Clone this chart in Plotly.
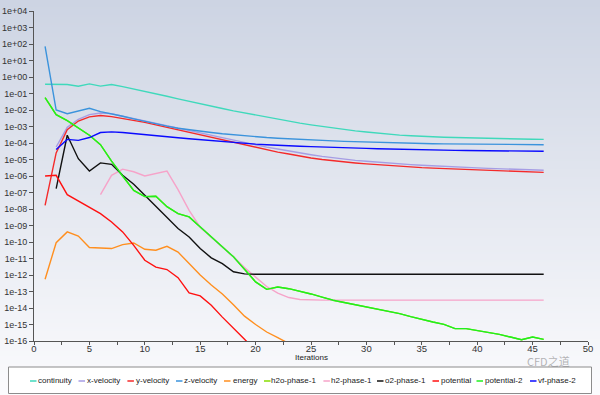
import base64
import struct
import zlib

import plotly.graph_objects as go

# ---------------- data ----------------
iters_1 = list(range(1, 47))
iters_2 = list(range(2, 47))
iters_6 = list(range(6, 47))

continuity = [3.6e-1, 3.6e-1, 3.5e-1, 2.75e-1, 3.8e-1, 2.8e-1, 3.5e-1, 2.6e-1, 1.9e-1, 1.35e-1,
              9.5e-2, 6.8e-2, 4.7e-2, 3.3e-2, 2.3e-2, 1.7e-2, 1.23e-2, 8.9e-3, 6.6e-3, 4.9e-3,
              3.6e-3, 2.75e-3, 2.1e-3, 1.6e-3, 1.26e-3, 1.0e-3, 7.9e-4, 6.5e-4, 5.4e-4, 4.6e-4,
              3.9e-4, 3.4e-4, 3.0e-4, 2.75e-4, 2.5e-4, 2.35e-4, 2.24e-4, 2.14e-4, 2.04e-4, 1.95e-4,
              1.86e-4, 1.82e-4, 1.78e-4, 1.74e-4, 1.70e-4, 1.66e-4]

x_velocity = [5.75e-5, 8.9e-4, 2.75e-3, 5.25e-3, 6.6e-3, 6.0e-3, 4.2e-3, 3.0e-3, 2.2e-3,
              1.58e-3, 1.12e-3, 7.9e-4, 5.6e-4, 4.0e-4, 2.8e-4, 2.0e-4, 1.45e-4, 1.05e-4, 7.6e-5,
              5.6e-5, 4.3e-5, 3.2e-5, 2.5e-5, 1.95e-5, 1.55e-5, 1.26e-5, 1.05e-5, 8.9e-6, 7.8e-6,
              6.8e-6, 6.0e-6, 5.4e-6, 4.9e-6, 4.5e-6, 4.1e-6, 3.8e-6, 3.55e-6, 3.3e-6, 3.1e-6,
              2.9e-6, 2.75e-6, 2.6e-6, 2.45e-6, 2.35e-6, 2.24e-6]

y_velocity = [1.66e-8, 2.5e-5, 6.3e-4, 2.14e-3, 3.8e-3, 4.6e-3, 4.0e-3, 3.16e-3, 2.4e-3, 1.78e-3,
              1.26e-3, 8.9e-4, 6.3e-4, 4.4e-4, 3.0e-4, 2.1e-4, 1.48e-4, 1.05e-4, 7.6e-5, 5.4e-5,
              3.9e-5, 2.8e-5, 2.14e-5, 1.58e-5, 1.23e-5, 1.0e-5, 8.3e-6, 7.1e-6, 6.2e-6, 5.4e-6,
              4.8e-6, 4.3e-6, 3.9e-6, 3.55e-6, 3.2e-6, 3.0e-6, 2.8e-6, 2.6e-6, 2.45e-6, 2.3e-6,
              2.14e-6, 2.04e-6, 1.9e-6, 1.82e-6, 1.74e-6, 1.66e-6]

z_velocity = [7.1e1, 1.0e-2, 6.0e-3, 8.7e-3, 1.26e-2, 7.9e-3, 6.0e-3, 4.2e-3, 2.9e-3, 2.0e-3,
              1.45e-3, 1.05e-3, 7.9e-4, 6.3e-4, 5.1e-4, 4.3e-4, 3.6e-4, 3.1e-4, 2.7e-4, 2.4e-4,
              2.14e-4, 1.95e-4, 1.78e-4, 1.66e-4, 1.55e-4, 1.45e-4, 1.35e-4, 1.26e-4, 1.2e-4, 1.12e-4,
              1.07e-4, 1.02e-4, 1.0e-4, 9.5e-5, 9.3e-5, 9.1e-5, 8.9e-5, 8.7e-5, 8.5e-5, 8.5e-5,
              8.3e-5, 8.3e-5, 8.1e-5, 8.1e-5, 7.9e-5, 7.9e-5]

iters_energy = list(range(1, 24))
energy = [5.5e-13, 9.1e-11, 4.1e-10, 2.3e-10, 4.6e-11, 4.2e-11, 4.0e-11, 6.9e-11, 8.7e-11, 3.6e-11,
          3.2e-11, 5.5e-11, 2.45e-11, 4.9e-12, 1.0e-12, 2.5e-13, 7.1e-14, 1.58e-14, 3.2e-15, 1.0e-15,
          3.5e-16, 1.58e-16, 7.1e-17]

potential_2 = [5.6e-2, 5.25e-3, 2.24e-3, 8.3e-4, 2.95e-4, 7.9e-5, 7.9e-6, 1.0e-6, 1.35e-7, 5.6e-8,
               5.9e-8, 1.38e-8, 5.25e-9, 3.3e-9, 8.1e-10, 2.0e-10, 5.25e-11, 1.26e-11, 2.24e-12, 3.8e-13,
               1.35e-13, 1.86e-13, 1.48e-13, 1.07e-13, 7.1e-14, 4.6e-14, 2.95e-14, 2.14e-14, 1.58e-14,
               1.15e-14, 8.5e-15, 6.3e-15, 4.6e-15, 3.0e-15, 2.0e-15, 1.41e-15, 1.02e-15, 5.6e-16,
               5.6e-16, 4.3e-16, 3.3e-16, 2.5e-16, 1.74e-16, 1.2e-16, 1.74e-16, 1.26e-16]

# h2o-phase-1 is not distinguishable in the reference: it lies under potential-2
h2o_phase_1 = [5.6e-2, 5.25e-3, 2.24e-3, 8.3e-4, 2.95e-4, 7.9e-5, 7.9e-6, 1.0e-6, 1.35e-7, 5.6e-8,
               5.9e-8, 1.38e-8, 5.25e-9, 3.3e-9, 8.1e-10, 2.0e-10, 5.25e-11, 1.26e-11, 2.24e-12, 3.8e-13,
               1.35e-13, 1.86e-13, 1.48e-13, 1.07e-13, 7.1e-14, 4.6e-14, 2.95e-14, 2.14e-14, 1.58e-14,
               1.15e-14, 8.5e-15, 6.3e-15, 4.6e-15, 3.0e-15, 2.0e-15, 1.41e-15, 1.02e-15, 5.6e-16,
               5.6e-16, 4.3e-16, 3.3e-16, 2.5e-16, 1.74e-16, 1.2e-16, 1.74e-16, 1.26e-16]

h2_phase_1 = [7.4e-8, 1.1e-6, 2.6e-6, 1.8e-6, 1.0e-6, 1.45e-6, 2.0e-6, 1.51e-7, 8.3e-9, 7.9e-10,
              2.0e-10, 5.0e-11, 1.26e-11, 2.8e-12, 7.1e-13, 2.0e-13, 7.9e-14, 4.3e-14, 3.3e-14, 3.0e-14,
              3.0e-14, 3.0e-14, 3.0e-14, 3.0e-14, 3.0e-14, 3.0e-14, 3.0e-14, 3.0e-14, 3.0e-14, 3.0e-14,
              3.0e-14, 3.0e-14, 3.0e-14, 3.0e-14, 3.0e-14, 3.0e-14, 3.0e-14, 3.0e-14, 3.0e-14, 3.0e-14,
              3.0e-14]

o2_phase_1 = [1.7e-7, 2.95e-4, 1.12e-5, 2.0e-6, 6.2e-6, 5.1e-6, 1.1e-6, 3.16e-7, 6.8e-8, 1.45e-8,
              3.0e-9, 6.5e-10, 2.0e-10, 4.0e-11, 1.1e-11, 4.9e-12, 1.58e-12, 1.17e-12, 1.12e-12,
              1.12e-12, 1.12e-12, 1.12e-12, 1.12e-12, 1.12e-12, 1.12e-12, 1.12e-12, 1.12e-12, 1.12e-12,
              1.12e-12, 1.12e-12, 1.12e-12, 1.12e-12, 1.12e-12, 1.12e-12, 1.12e-12, 1.12e-12, 1.12e-12,
              1.12e-12, 1.12e-12, 1.12e-12, 1.12e-12, 1.12e-12, 1.12e-12, 1.12e-12, 1.12e-12]

iters_potential = list(range(1, 21))
potential = [1.0e-6, 1.1e-6, 7.4e-8, 3.0e-8, 1.2e-8, 5.25e-9, 1.62e-9, 4.1e-10, 6.3e-11, 7.8e-12,
             3.0e-12, 2.14e-12, 6.9e-13, 8.3e-14, 5.4e-14, 1.45e-14, 2.8e-15, 5.6e-16, 1.26e-16, 2.8e-17]

vf_phase_2 = [4.0e-5, 1.66e-4, 1.45e-4, 2.14e-4, 4.3e-4, 4.7e-4, 4.3e-4, 3.8e-4, 3.3e-4, 2.9e-4,
              2.45e-4, 2.1e-4, 1.82e-4, 1.58e-4, 1.38e-4, 1.2e-4, 1.05e-4, 9.3e-5, 8.5e-5, 7.8e-5,
              7.1e-5, 6.6e-5, 6.3e-5, 6.0e-5, 5.6e-5, 5.4e-5, 5.1e-5, 4.9e-5, 4.7e-5, 4.5e-5,
              4.3e-5, 4.1e-5, 4.0e-5, 3.9e-5, 3.7e-5, 3.6e-5, 3.55e-5, 3.5e-5, 3.4e-5, 3.4e-5,
              3.3e-5, 3.3e-5, 3.2e-5, 3.2e-5, 3.16e-5]

series_names = ["continuity", "x-velocity", "y-velocity", "z-velocity", "energy", "h2o-phase-1",
                "h2-phase-1", "o2-phase-1", "potential", "potential-2", "vf-phase-2"]

y_tick_values = [1e-16, 1e-15, 1e-14, 1e-13, 1e-12, 1e-11, 1e-10, 1e-09, 1e-08, 1e-07, 1e-06,
                 1e-05, 1e-04, 1e-03, 1e-02, 1e-01, 1e+00, 1e+01, 1e+02, 1e+03, 1e+04]
y_tick_labels = ["1e-16", "1e-15", "1e-14", "1e-13", "1e-12", "1e-11", "1e-10", "1e-09", "1e-08",
                 "1e-07", "1e-06", "1e-05", "1e-04", "1e-03", "1e-02", "1e-01", "1e+00", "1e+01",
                 "1e+02", "1e+03", "1e+04"]
x_tick_values = [0, 5, 10, 15, 20, 25, 30, 35, 40, 45, 50]

# ---------------- styling ----------------
colors = ["#3fd9bb", "#a69de4", "#f42a2a", "#3b93dc", "#ff8f1f", "#86dc00",
          "#f6a3c9", "#111111", "#ff1010", "#1ff01f", "#0a0aff"]

series = [
    (iters_1, continuity), (iters_2, x_velocity), (iters_1, y_velocity), (iters_1, z_velocity),
    (iters_energy, energy), (iters_1, h2o_phase_1), (iters_6, h2_phase_1), (iters_2, o2_phase_1),
    (iters_potential, potential), (iters_1, potential_2), (iters_2, vf_phase_2),
]

W, H = 600, 395
ML, MR, MT, MB = 34, 12, 11, 54
PW, PH = W - ML - MR, H - MT - MB


def px_x(p):
    return (p - ML) / PW


def px_y(p):
    return (H - MB - p) / PH


def gradient_png(top, bottom, h=200):
    rows = b""
    for i in range(h):
        t = i / (h - 1)
        c = [int(round(top[k] + (bottom[k] - top[k]) * t)) for k in range(3)]
        rows += b"\x00" + bytes(c)

    def chunk(tag, data):
        return (struct.pack(">I", len(data)) + tag + data
                + struct.pack(">I", zlib.crc32(tag + data) & 0xFFFFFFFF))

    png = (b"\x89PNG\r\n\x1a\n"
           + chunk(b"IHDR", struct.pack(">IIBBBBB", 1, h, 8, 2, 0, 0, 0))
           + chunk(b"IDAT", zlib.compress(rows))
           + chunk(b"IEND", b""))
    return "data:image/png;base64," + base64.b64encode(png).decode()


fig = go.Figure()
for name, color, (xs, ys) in zip(series_names, colors, series):
    fig.add_trace(go.Scatter(x=xs, y=ys, mode="lines", name=name,
                             line=dict(color=color, width=1.4), showlegend=False))

# custom single-row legend
legend_line_px = [30, 78.5, 127.4, 176, 224, 264, 323.4, 377, 432.5, 476.5, 530]
legend_text_px = [39.4, 88.8, 137, 185.6, 234.2, 272.9, 332.2, 386.5, 442, 486.8, 539.6]
legend_y_px = 381

shapes = [dict(type="rect", xref="paper", yref="paper",
               x0=px_x(8.5), x1=px_x(591.5), y0=px_y(393.5), y1=px_y(367),
               fillcolor="white", line=dict(color="#8c8c8c", width=1), layer="below")]
annotations = []
for name, color, lx, tx in zip(series_names, colors, legend_line_px, legend_text_px):
    shapes.append(dict(type="line", xref="paper", yref="paper",
                       x0=px_x(lx), x1=px_x(lx + 6.5), y0=px_y(legend_y_px), y1=px_y(legend_y_px),
                       line=dict(color=color, width=1.5)))
    annotations.append(dict(text=name, xref="paper", yref="paper", x=px_x(tx - 1.5),
                            y=px_y(legend_y_px), xanchor="left", yanchor="middle",
                            showarrow=False, borderpad=0, borderwidth=0,
                            font=dict(family="Liberation Sans, Arial", size=8, color="#222222")))

annotations.append(dict(text="Iterations", xref="paper", yref="paper", x=0.5, y=px_y(357),
                        xanchor="center", yanchor="middle", showarrow=False,
                        borderpad=0, borderwidth=0,
                        font=dict(family="Liberation Sans, Arial", size=8, color="#222222")))
annotations.append(dict(text="CFD之道", xref="paper", yref="paper", x=px_x(548), y=px_y(361),
                        xanchor="center", yanchor="middle", showarrow=False,
                        borderpad=0, borderwidth=0,
                        font=dict(family="Noto Sans CJK SC", size=11, color="rgba(110,110,110,0.5)")))

fig.update_layout(
    width=W, height=H,
    margin=dict(l=ML, r=MR, t=MT, b=MB, pad=0, autoexpand=False),
    paper_bgcolor="white",
    plot_bgcolor="rgba(0,0,0,0)",
    showlegend=False,
    shapes=shapes,
    annotations=annotations,
    images=[dict(source=gradient_png((205, 212, 227), (251, 251, 253)),
                 xref="paper", yref="paper", x=px_x(0), y=px_y(0),
                 sizex=W / PW, sizey=H / PH, xanchor="left", yanchor="top",
                 sizing="stretch", layer="below")],
    font=dict(family="Liberation Sans, Arial", size=9, color="#333333"),
)
fig.update_xaxes(range=[0, 50], tickvals=x_tick_values, ticks="outside", ticklen=3,
                 tickcolor="#555555", showline=True, linecolor="#555555", linewidth=1,
                 showgrid=False, zeroline=False, automargin=False, ticklabelstandoff=-4,
                 tickfont=dict(size=9.5, color="#333333"),
                 minor=dict(dtick=2.5, ticks="outside", ticklen=3, tickcolor="#555555"))
fig.update_yaxes(type="log", range=[-16, 4], tickvals=y_tick_values, ticktext=y_tick_labels,
                 ticks="outside", ticklen=4, tickcolor="#555555", showline=True,
                 linecolor="#555555", linewidth=1, showgrid=False, zeroline=False,
                 automargin=False, tickfont=dict(size=9, color="#333333"))

fig.write_html("out.html", config={"displayModeBar": False},
               post_script="document.body.style.margin='0';document.body.style.overflow='hidden';")
